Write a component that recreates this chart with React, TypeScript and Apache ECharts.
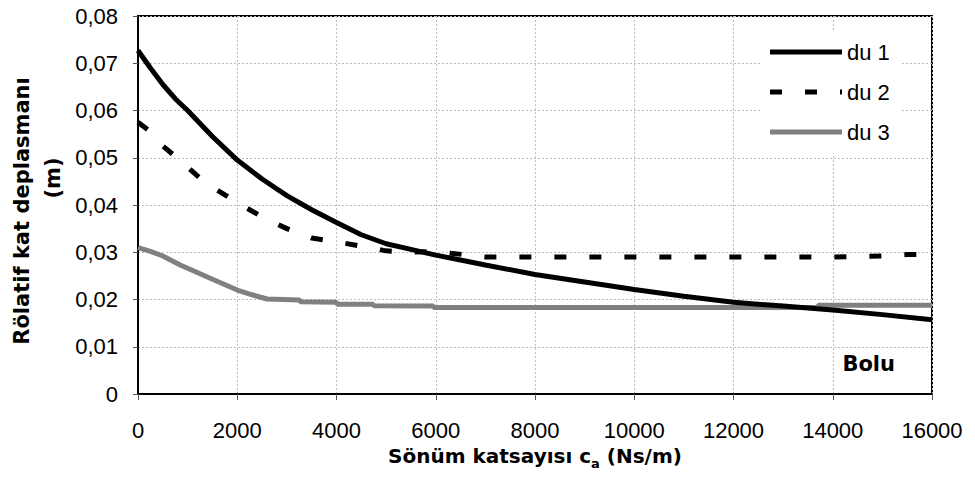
import React, { useEffect, useRef } from "react";
import * as echarts from "echarts";

const xTicks = [0, 2000, 4000, 6000, 8000, 10000, 12000, 14000, 16000];
const yTicks = [0, 0.01, 0.02, 0.03, 0.04, 0.05, 0.06, 0.07, 0.08];

const du1X = [0, 250, 500, 750, 1000, 1500, 2000, 2500, 3000, 3500, 4000, 4500, 5000, 5500, 6000, 7000, 8000, 9000, 10000, 11000, 12000, 13000, 14000, 15000, 16000];
const du1Y = [0.0727, 0.069, 0.0655, 0.0625, 0.06, 0.0545, 0.0495, 0.0455, 0.042, 0.039, 0.0363, 0.0337, 0.0318, 0.0306, 0.0294, 0.0273, 0.0253, 0.0237, 0.0221, 0.0207, 0.0194, 0.0186, 0.0178, 0.0168, 0.0157];

const du2X = [0, 250, 500, 750, 1000, 1250, 1500, 2000, 2500, 3000, 3500, 4000, 4500, 5000, 5500, 6000, 6300, 7000, 8000, 10000, 12000, 14000, 15000, 15500, 16000];
const du2Y = [0.0575, 0.0555, 0.0525, 0.0503, 0.048, 0.0457, 0.0438, 0.0405, 0.0375, 0.035, 0.033, 0.0322, 0.0313, 0.0303, 0.03, 0.0302, 0.0298, 0.029, 0.029, 0.029, 0.029, 0.029, 0.0292, 0.0295, 0.0295];

const du3X = [0, 250, 500, 850, 1000, 1500, 2000, 2300, 2600, 3260, 3270, 4000, 4010, 4740, 4750, 5950, 5960, 13700, 13710, 16000];
const du3Y = [0.031, 0.0302, 0.0292, 0.0273, 0.0266, 0.0243, 0.022, 0.021, 0.0201, 0.0199, 0.0195, 0.0194, 0.019, 0.019, 0.0187, 0.0186, 0.0183, 0.0183, 0.0188, 0.0188];

const seriesNames = ["du 1", "du 2", "du 3"];
const yTitle = "Rölatif kat deplasmanı";
const yTitle2 = "(m)";
const siteLabel = "Bolu";

const pairs = (xs: number[], ys: number[]) => xs.map((x, i) => [x, ys[i]]);

const solidIcon = "path://M0,0h72v5h-72z";
const dashIcon = "path://M0,0h12v5h-12zM35,0h12v5h-12zM70,0h2v5h-2z";
const legendIcons = [solidIcon, dashIcon, solidIcon];

export default function App() {
  const ref = useRef<HTMLDivElement>(null);
  useEffect(() => {
    if (!ref.current) return;
    const chart = echarts.init(ref.current, null, { renderer: "svg" });
    const sans = "'Liberation Sans', Arial, sans-serif";
    const boldF = "'DejaVu Sans', sans-serif";
    chart.setOption({
      animation: false,
      backgroundColor: "#fff",
      grid: {
        left: 138,
        right: 43,
        top: 16,
        bottom: 87,
        show: true,
        borderColor: "#000",
        borderWidth: 2,
      },
      legend: {
        orient: "vertical",
        left: 760,
        top: 31,
        padding: [10, 12, 10, 10],
        backgroundColor: "#fff",
        itemWidth: 72,
        itemHeight: 5,
        itemGap: 18,
        itemTextGap: 6,
        data: seriesNames.map((n, i) => ({ name: n, icon: legendIcons[i] })),
        textStyle: { fontFamily: sans, fontSize: 22, lineHeight: 22, color: "#000" },
      },
      xAxis: {
        type: "value",
        min: 0,
        max: 16000,
        interval: 2000,
        name: "{m|Sönüm katsayısı c}{s|a}{m| (Ns/m)}",
        nameLocation: "middle",
        nameGap: 49,
        nameTextStyle: {
          rich: {
            m: { fontFamily: boldF, fontWeight: "bold", fontSize: 20, color: "#000", verticalAlign: "top", lineHeight: 24 },
            s: { fontFamily: boldF, fontWeight: "bold", fontSize: 13, color: "#000", verticalAlign: "bottom", lineHeight: 24, padding: [10, 0, 0, 0] },
          },
        },
        axisLine: { show: true, lineStyle: { color: "#000", width: 2 } },
        axisTick: { show: true, length: 6, lineStyle: { color: "#555" } },
        axisLabel: {
          margin: 25,
          fontFamily: sans,
          fontSize: 22,
          color: "#000",
          formatter: (v: number) => (xTicks.includes(v) ? String(v) : ""),
        },
        splitLine: { show: true, lineStyle: { color: "#bbb", type: [2, 2], width: 1 } },
      },
      yAxis: {
        type: "value",
        min: 0,
        max: 0.08,
        interval: 0.01,
        axisLine: { show: true, lineStyle: { color: "#000", width: 2 } },
        axisTick: { show: true, length: 5, lineStyle: { color: "#555" } },
        axisLabel: {
          margin: 20,
          fontFamily: sans,
          fontSize: 22,
          color: "#000",
          formatter: (v: number) => {
            const t = yTicks.find((k) => Math.abs(k - v) < 1e-9);
            if (t === undefined) return "";
            return t === 0 ? "0" : t.toFixed(2).replace(".", ",");
          },
        },
        splitLine: { show: true, lineStyle: { color: "#bbb", type: [2, 2], width: 1 } },
      },
      graphic: [
        {
          type: "text",
          x: 22,
          y: 211,
          rotation: Math.PI / 2,
          style: {
            text: yTitle,
            align: "center",
            verticalAlign: "middle",
            fontFamily: boldF,
            fontWeight: "bold",
            fontSize: 21,
            fill: "#000",
          },
        },
        {
          type: "text",
          x: 53,
          y: 178,
          rotation: Math.PI / 2,
          style: {
            text: yTitle2,
            align: "center",
            verticalAlign: "middle",
            fontFamily: boldF,
            fontWeight: "bold",
            fontSize: 21,
            fill: "#000",
          },
        },
        {
          type: "text",
          x: 895,
          y: 364,
          style: {
            text: siteLabel,
            align: "right",
            verticalAlign: "middle",
            fontFamily: boldF,
            fontWeight: "bold",
            fontSize: 21,
            fill: "#000",
          },
        },
      ],
      series: [
        {
          name: seriesNames[0],
          type: "line",
          symbol: "none",
          data: pairs(du1X, du1Y),
          lineStyle: { color: "#000", width: 5 },
          itemStyle: { color: "#000" },
          z: 3,
        },
        {
          name: seriesNames[1],
          type: "line",
          symbol: "none",
          data: pairs(du2X, du2Y),
          lineStyle: { color: "#000", width: 5, type: [12, 23], cap: "butt" },
          itemStyle: { color: "#000" },
          z: 2,
        },
        {
          name: seriesNames[2],
          type: "line",
          symbol: "none",
          data: pairs(du3X, du3Y),
          lineStyle: { color: "#808080", width: 5 },
          itemStyle: { color: "#808080" },
          z: 2,
        },
      ],
    });
    return () => chart.dispose();
  }, []);
  return <div ref={ref} style={{ width: 975, height: 481, position: "absolute", left: 0, top: 0 }} />;
}
